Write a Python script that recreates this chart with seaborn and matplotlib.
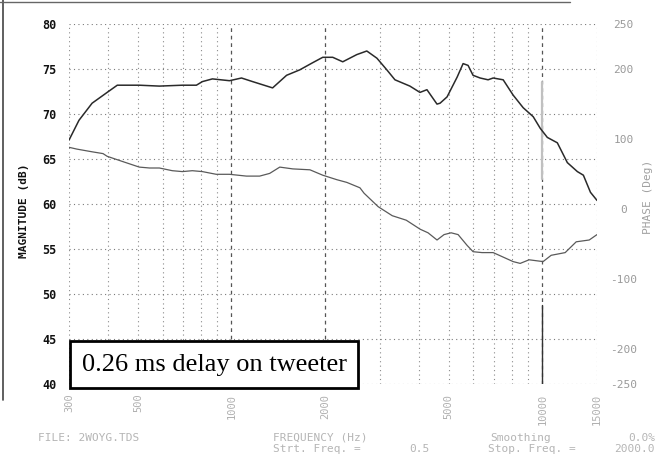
import numpy as np
import pandas as pd
import matplotlib
matplotlib.use("Agg")
import matplotlib.pyplot as plt
import seaborn as sns
from matplotlib.patches import Rectangle
from matplotlib.lines import Line2D

# ---------------- data ----------------
upper_freq = [300, 323, 356, 398, 429, 505, 586, 695, 771, 806, 868, 985, 1077, 1169,
              1356, 1504, 1657, 1825, 1966, 2117, 2280, 2530, 2725, 2937, 3162, 3357,
              3750, 4040, 4255, 4584, 4689, 4939, 5322, 5562, 5771, 5987, 6310, 6693,
              6950, 7485, 8058, 8680, 9351, 9855, 10380, 11180, 12040, 12970, 13560,
              14290, 15000]
upper_db = [67.1, 69.3, 71.2, 72.4, 73.2, 73.2, 73.1, 73.2, 73.2, 73.6, 73.9, 73.7, 74.0,
            73.6, 72.9, 74.3, 74.9, 75.7, 76.3, 76.3, 75.8, 76.6, 77.0, 76.2, 74.9, 73.8,
            73.1, 72.4, 72.7, 71.1, 71.2, 71.9, 74.1, 75.6, 75.4, 74.3, 74.0, 73.8, 74.0,
            73.8, 72.1, 70.7, 69.7, 68.4, 67.4, 66.8, 64.6, 63.6, 63.2, 61.3, 60.4]

lower_freq = [300, 318, 356, 386, 398, 448, 505, 545, 586, 645, 695, 748, 806, 893, 985,
              1117, 1232, 1327, 1430, 1575, 1788, 1966, 2183, 2350, 2590, 2670, 2965,
              3290, 3650, 4045, 4290, 4585, 4830, 5090, 5360, 5730, 5990, 6400, 6950,
              7485, 8058, 8490, 9070, 10060, 10680, 11850, 12860, 14160, 15000]
lower_db = [66.3, 66.1, 65.8, 65.6, 65.3, 64.7, 64.1, 64.0, 64.0, 63.7, 63.6, 63.7, 63.6,
            63.3, 63.3, 63.1, 63.1, 63.4, 64.1, 63.9, 63.8, 63.2, 62.7, 62.4, 61.8, 61.2,
            59.7, 58.7, 58.2, 57.2, 56.8, 56.0, 56.6, 56.8, 56.6, 55.4, 54.7, 54.6, 54.6,
            54.1, 53.6, 53.4, 53.8, 53.6, 54.3, 54.6, 55.8, 56.0, 56.6]

x_ticks = [300, 500, 1000, 2000, 5000, 10000, 15000]
x_tick_labels = ["300", "500", "1000", "2000", "5000", "10000", "15000"]
grid_minor_freqs = [300, 400, 500, 600, 700, 800, 900, 3000, 4000, 5000, 6000, 7000,
                    8000, 9000, 15000]
grid_major_freqs = [1000, 2000, 10000]
mag_ticks = [40, 45, 50, 55, 60, 65, 70, 75, 80]
phase_ticks = [-250, -200, -100, 0, 100, 200, 264]
phase_tick_labels = ["-250", "-200", "-100", "0", "100", "200", "250"]

annotation = "0.26 ms delay on tweeter"

# ---------------- figure ----------------
sns.set_theme(style="white")
plt.rcParams["font.family"] = ["DejaVu Sans"]

W, H = 662, 466
fig = plt.figure(figsize=(W / 100, H / 100), dpi=100)
fig.patch.set_facecolor("white")
ax = fig.add_axes([69 / W, 1 - 384 / H, 528 / W, 360 / H])
ax.set_facecolor("white")

ax.set_xscale("log")
ax.set_xlim(300, 15000)
ax.set_ylim(40, 80)

# grid
for f in grid_minor_freqs:
    ax.axvline(f, color="#8a8a8a", lw=0.8, ls=(0, (1, 3)), zorder=1)
for f in grid_major_freqs:
    ax.axvline(f, color="#555555", lw=0.9, ls=(0, (3, 3)), zorder=1)
for m in mag_ticks:
    ax.axhline(m, color="#7a7a7a", lw=0.8, ls=(0, (1, 3)), zorder=1)
# scan artefacts near 10 kHz
ax.axvline(10000, ymin=0.0, ymax=0.22, color="#333333", lw=1.0, zorder=1)
ax.axvline(10000, ymin=0.57, ymax=0.84, color="#c0c0c0", lw=1.6, zorder=1)

df_up = pd.DataFrame({"freq": upper_freq, "db": upper_db})
df_lo = pd.DataFrame({"freq": lower_freq, "db": lower_db})
sns.lineplot(data=df_up, x="freq", y="db", ax=ax, color="#2a2a2a", lw=1.1,
             estimator=None, sort=False, zorder=3)
sns.lineplot(data=df_lo, x="freq", y="db", ax=ax, color="#5a5a5a", lw=0.9,
             estimator=None, sort=False, zorder=3)

ax.set_xlabel("")
ax.set_ylabel("")
for s in ax.spines.values():
    s.set_visible(False)

ax.set_xticks(x_ticks)
ax.set_xticklabels(x_tick_labels)
ax.xaxis.set_minor_locator(matplotlib.ticker.NullLocator())
ax.tick_params(axis="x", length=0, pad=7, labelsize=7.5, labelcolor="#b0b0b0",
               labelrotation=90)
for t in ax.get_xticklabels():
    t.set_family("DejaVu Sans Mono")

ax.set_yticks(mag_ticks)
ax.set_yticklabels([str(m) for m in mag_ticks])
ax.tick_params(axis="y", length=0, pad=9, labelsize=8.5, labelcolor="#111111")
for t in ax.get_yticklabels():
    t.set_family("DejaVu Sans Mono")
    t.set_fontweight("bold")

ax2 = ax.twinx()
ax2.set_ylim(-250, 264)
ax2.set_yticks(phase_ticks)
ax2.set_yticklabels(phase_tick_labels)
ax2.tick_params(axis="y", length=0, pad=19, labelsize=8, labelcolor="#9a9a9a")
for t in ax2.get_yticklabels():
    t.set_family("DejaVu Sans Mono")
    t.set_horizontalalignment("center")
for s in ax2.spines.values():
    s.set_visible(False)
ax2.grid(False)

# axis titles
fig.text(24 / W, 1 - 211 / H, "MAGNITUDE (dB)", rotation=90, ha="center", va="center",
         fontsize=8, fontweight="bold", family="DejaVu Sans Mono", color="#111111")
fig.text(648 / W, 1 - 197 / H, "PHASE (Deg)", rotation=90, ha="center", va="center",
         fontsize=8, family="DejaVu Sans Mono", color="#a0a0a0")

# annotation box
ax.add_patch(Rectangle((1 / 528, -4 / 360), 288 / 528, 47 / 360, transform=ax.transAxes,
                       facecolor="white", edgecolor="black", lw=2.0, clip_on=False,
                       zorder=5))
ax.text(214 / 528 - 69 / 528 + 0.0, 19.5 / 360, annotation, transform=ax.transAxes,
        ha="center", va="center", fontsize=19, family="Liberation Serif",
        color="black", zorder=6)

# footer texts
foot = dict(fontsize=8, family="DejaVu Sans Mono", color="#b5b5b5", va="center")
y1, y2 = 1 - 438 / H, 1 - 449 / H
fig.text(38 / W, y1, "FILE: 2WOYG.TDS", ha="left", **foot)
fig.text(273 / W, y1, "FREQUENCY (Hz)", ha="left", **foot)
fig.text(273 / W, y2, "Strt. Freq. =", ha="left", **foot)
fig.text(430 / W, y2, "0.5", ha="right", **foot)
fig.text(490 / W, y1, "Smoothing", ha="left", **foot)
fig.text(655 / W, y1, "0.0%", ha="right", **foot)
fig.text(488 / W, y2, "Stop. Freq. =", ha="left", **foot)
fig.text(655 / W, y2, "2000.0", ha="right", **foot)

# scanned page edges
fig.add_artist(Line2D([3 / W, 3 / W], [1 - 400 / H, 1.0], color="#444444", lw=1.2))
fig.add_artist(Line2D([0, 570 / W], [1 - 2 / H, 1 - 2 / H], color="#666666", lw=1.0))

fig.savefig("out.png", dpi=100, facecolor="white")
